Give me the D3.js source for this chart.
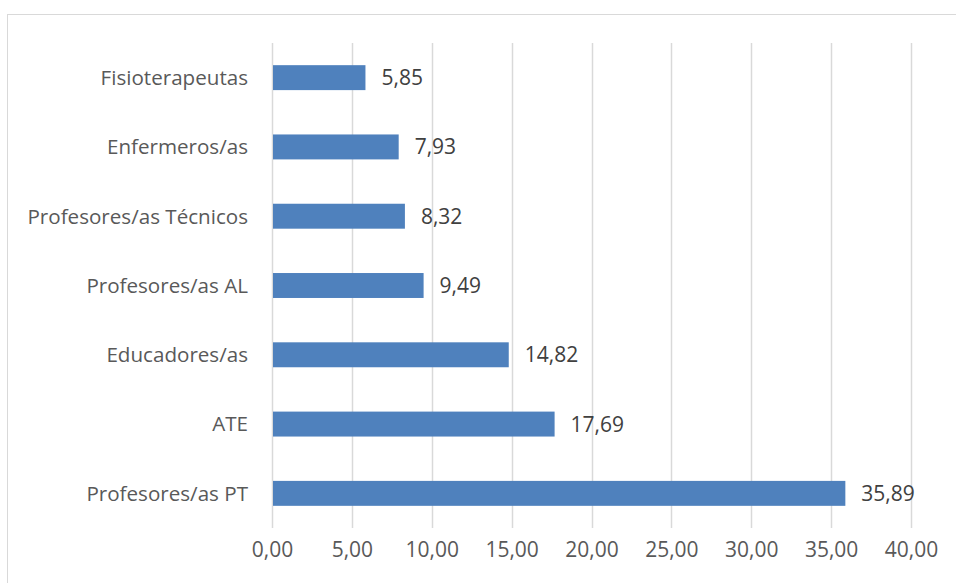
<!DOCTYPE html>
<html><head><meta charset="utf-8">
<script src="https://cdn.jsdelivr.net/npm/d3@7/dist/d3.min.js"></script>
<style>
body{margin:0;background:#fff;}
svg{display:block;}
text{font-family:"Open Sans","Noto Sans",sans-serif;}
</style></head>
<body><svg id="chart" width="956" height="583"></svg>
<script>
const categories = ["Fisioterapeutas","Enfermeros/as","Profesores/as Técnicos","Profesores/as AL","Educadores/as","ATE","Profesores/as PT"];
const values = [5.85,7.93,8.32,9.49,14.82,17.69,35.89];
const tickValues = [0,5,10,15,20,25,30,35,40];

const svg = d3.select("#chart");
const fmt = v => d3.format(".2f")(v).replace(".", ",");

svg.append("rect").attr("x",7.5).attr("y",14.5).attr("width",960).attr("height",600)
  .attr("fill","#fff").attr("stroke","#d9d9d9").attr("stroke-width",1);

const x = d3.scaleLinear().domain([0,40]).range([272,911]);
const y = d3.scaleBand().domain(categories).range([43,528]).paddingInner(0.64).paddingOuter(0.32);

// gridlines
svg.append("g").selectAll("line").data(tickValues).join("line")
  .attr("x1",d=>Math.round(x(d))+0.5).attr("x2",d=>Math.round(x(d))+0.5)
  .attr("y1",43).attr("y2",528).attr("stroke","#d9d9d9").attr("stroke-width",1.5);

// bars
svg.append("g").selectAll("rect").data(values).join("rect")
  .attr("x",x(0)+1).attr("y",(d,i)=>y(categories[i]))
  .attr("width",d=>x(d)-x(0)-1).attr("height",y.bandwidth())
  .attr("fill","#4f81bd");

// value labels
svg.append("g").selectAll("text").data(values).join("text")
  .attr("x",d=>x(d)+16).attr("y",(d,i)=>y(categories[i])+y.bandwidth()/2)
  .attr("dy","0.36em").attr("font-size",21).attr("fill","#404040")
  .text(d=>fmt(d));

// category labels
svg.append("g").selectAll("text").data(categories).join("text")
  .attr("x",248).attr("y",d=>y(d)+y.bandwidth()/2).attr("dy","0.36em")
  .attr("text-anchor","end").attr("font-size",20.6).attr("fill","#595959")
  .text(d=>d);

// x axis labels
const xAxis = d3.axisBottom(x).tickValues(tickValues).tickFormat(fmt).tickSize(0).tickPadding(0);
const gx = svg.append("g").attr("transform","translate(0,542)").call(xAxis);
gx.select(".domain").remove();
gx.selectAll("text").attr("font-size",21).attr("fill","#595959").attr("font-family","'Open Sans','Noto Sans',sans-serif");
</script></body></html>
